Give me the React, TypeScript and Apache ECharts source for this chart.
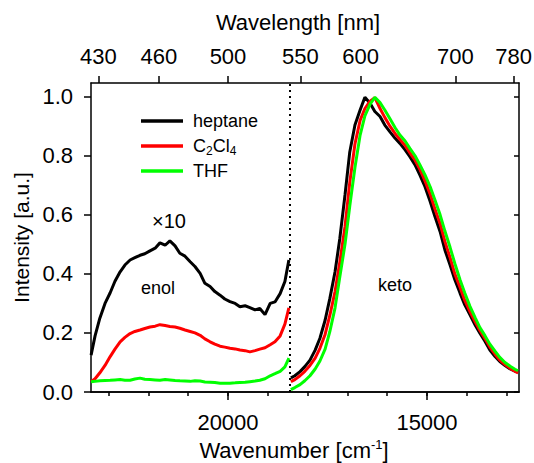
import React, { useEffect, useRef } from 'react';
import * as echarts from 'echarts';

// Wavenumber (cm^-1) sampling of the enol (×10) part and keto part
const enolWavenumber = [23440, 23340, 23220, 23090, 22960, 22840, 22710, 22590, 22460, 22340, 22210, 22090, 21960, 21830, 21710, 21580, 21460, 21330, 21210, 21080, 20950, 20830, 20700, 20580, 20450, 20330, 20200, 20080, 19950, 19820, 19700, 19570, 19450, 19320, 19200, 19070, 18940, 18820, 18690, 18570, 18470];
const ketoWavenumber = [18420, 18320, 18190, 18070, 17940, 17810, 17690, 17560, 17440, 17310, 17190, 17060, 16940, 16810, 16680, 16560, 16430, 16310, 16180, 16060, 15930, 15800, 15680, 15550, 15430, 15300, 15180, 15050, 14920, 14800, 14670, 14550, 14420, 14300, 14170, 14050, 13920, 13790, 13670, 13540, 13420, 13290, 13170, 13040, 12910, 12790, 12710];

const heptaneEnol = [0.125, 0.19, 0.25, 0.3, 0.336, 0.375, 0.407, 0.43, 0.447, 0.455, 0.463, 0.468, 0.478, 0.487, 0.505, 0.497, 0.512, 0.495, 0.47, 0.46, 0.441, 0.425, 0.402, 0.368, 0.357, 0.34, 0.328, 0.315, 0.306, 0.3, 0.289, 0.292, 0.286, 0.278, 0.283, 0.262, 0.3, 0.305, 0.333, 0.374, 0.447];
const c2cl4Enol = [0.035, 0.045, 0.065, 0.09, 0.12, 0.145, 0.17, 0.185, 0.198, 0.205, 0.21, 0.215, 0.22, 0.223, 0.228, 0.225, 0.222, 0.22, 0.216, 0.21, 0.205, 0.2, 0.192, 0.18, 0.17, 0.162, 0.155, 0.152, 0.148, 0.146, 0.142, 0.14, 0.136, 0.14, 0.145, 0.15, 0.16, 0.17, 0.19, 0.23, 0.285];
const thfEnol = [0.035, 0.036, 0.038, 0.039, 0.04, 0.041, 0.042, 0.04, 0.04, 0.044, 0.047, 0.043, 0.042, 0.041, 0.04, 0.042, 0.041, 0.039, 0.038, 0.037, 0.036, 0.038, 0.037, 0.034, 0.033, 0.032, 0.03, 0.03, 0.03, 0.031, 0.032, 0.033, 0.035, 0.037, 0.04, 0.045, 0.055, 0.062, 0.07, 0.085, 0.115];

const heptaneKeto = [0.048, 0.055, 0.069, 0.086, 0.108, 0.142, 0.182, 0.243, 0.317, 0.407, 0.52, 0.667, 0.813, 0.904, 0.955, 0.998, 0.978, 0.95, 0.933, 0.904, 0.881, 0.859, 0.842, 0.82, 0.797, 0.769, 0.735, 0.695, 0.645, 0.594, 0.543, 0.481, 0.43, 0.38, 0.335, 0.295, 0.261, 0.227, 0.199, 0.171, 0.142, 0.12, 0.103, 0.09, 0.078, 0.071, 0.067];
const c2cl4Keto = [0.035, 0.042, 0.055, 0.07, 0.09, 0.115, 0.148, 0.195, 0.26, 0.34, 0.44, 0.56, 0.71, 0.84, 0.92, 0.96, 0.985, 0.997, 0.96, 0.93, 0.9, 0.875, 0.855, 0.835, 0.81, 0.785, 0.755, 0.715, 0.67, 0.62, 0.57, 0.51, 0.455, 0.4, 0.355, 0.31, 0.272, 0.238, 0.208, 0.18, 0.152, 0.128, 0.108, 0.093, 0.08, 0.07, 0.065];
const thfKeto = [0.008, 0.015, 0.025, 0.038, 0.055, 0.078, 0.105, 0.145, 0.205, 0.285, 0.39, 0.5, 0.63, 0.76, 0.87, 0.935, 0.975, 0.998, 0.98, 0.955, 0.925, 0.895, 0.87, 0.85, 0.825, 0.8, 0.77, 0.735, 0.695, 0.65, 0.6, 0.545, 0.49, 0.435, 0.38, 0.335, 0.29, 0.252, 0.218, 0.19, 0.162, 0.138, 0.117, 0.1, 0.087, 0.077, 0.072];

const solventNames = ['heptane', 'C2Cl4', 'THF'];
const solventColors = ['#000000', '#ff0000', '#00ff00'];

const wavelengthTicks = [430, 460, 500, 550, 600, 700, 780];
const wavenumberLabels = [15000, 20000];
const wavenumberMinorTicks = [13000, 14000, 15000, 16000, 17000, 18000, 19000, 20000, 21000, 22000, 23000];
const intensityTicks = [0, 0.2, 0.4, 0.6, 0.8, 1.0];
const separatorWavenumber = 18460;

const X_MIN = 12688;
const X_MAX = 23442;
const Y_MAX = 1.0464;
const FONT = 'Liberation Sans, Arial, sans-serif';

function buildSeriesData(enol: number[], keto: number[]) {
  const d: (number | null)[][] = [];
  enolWavenumber.forEach((w, i) => d.push([w, enol[i]]));
  d.push([18445, null]);
  ketoWavenumber.forEach((w, i) => d.push([w, keto[i]]));
  return d;
}

export default function App() {
  const ref = useRef<HTMLDivElement>(null);
  useEffect(() => {
    if (!ref.current) return;
    const chart = echarts.init(ref.current, null, { renderer: 'svg' });
    const values = [
      [heptaneEnol, heptaneKeto],
      [c2cl4Enol, c2cl4Keto],
      [thfEnol, thfKeto],
    ];
    const axisLine = { show: true, lineStyle: { color: '#000', width: 1.5 } };
    const labelStyle = { fontFamily: FONT, fontSize: 22, color: '#000' };
    const option: any = {
      animation: false,
      backgroundColor: '#fff',
      grid: { left: 91, right: 15, top: 83, bottom: 71, containLabel: false, outerBoundsMode: 'none' },
      xAxis: [
        {
          type: 'value', position: 'bottom', min: X_MIN, max: X_MAX, inverse: true,
          axisLine, splitLine: { show: false },
          axisTick: { show: true, inside: false, length: 4, customValues: wavenumberMinorTicks, lineStyle: { color: '#000', width: 1.5 } },
          axisLabel: { show: false },
        },
        {
          type: 'value', position: 'bottom', min: X_MIN, max: X_MAX, inverse: true,
          axisLine, splitLine: { show: false },
          axisTick: { show: true, inside: false, length: 8, customValues: wavenumberLabels, lineStyle: { color: '#000', width: 1.5 } },
          axisLabel: { ...labelStyle, margin: 19, customValues: wavenumberLabels, formatter: (v: number) => String(v) },
          name: '{a|Wavenumber [cm}{b|-1}{a|]}',
          nameLocation: 'middle',
          nameGap: 42,
          nameTextStyle: {
            padding: [0, 22, 0, 0],
            rich: {
              a: { fontFamily: FONT, fontSize: 22, lineHeight: 26, color: '#000' },
              b: { fontFamily: FONT, fontSize: 13, lineHeight: 13, color: '#000', verticalAlign: 'top' },
            },
          },
        },
        {
          type: 'value', position: 'top', min: X_MIN, max: X_MAX, inverse: true,
          axisLine, splitLine: { show: false },
          axisTick: { show: true, inside: false, length: 7, customValues: wavelengthTicks.map((l) => 1e7 / l), lineStyle: { color: '#000', width: 1.5 } },
          axisLabel: { ...labelStyle, margin: 16, customValues: wavelengthTicks.map((l) => 1e7 / l), formatter: (v: number) => String(Math.round(1e7 / v)) },
          name: 'Wavelength [nm]',
          nameLocation: 'middle',
          nameGap: 50,
          nameTextStyle: { fontFamily: FONT, fontSize: 22, color: '#000', padding: [0, 14, 0, 0] },
        },
      ],
      yAxis: [
        {
          type: 'value', position: 'left', min: 0, max: Y_MAX,
          axisLine, splitLine: { show: false },
          axisTick: { show: true, inside: false, length: 7, customValues: intensityTicks, lineStyle: { color: '#000', width: 1.5 } },
          axisLabel: { ...labelStyle, margin: 18, customValues: intensityTicks, formatter: (v: number) => v.toFixed(1) },
          name: 'Intensity [a.u.]',
          nameLocation: 'middle',
          nameGap: 55,
          nameTextStyle: { fontFamily: FONT, fontSize: 21, color: '#000' },
        },
        {
          type: 'value', position: 'right', min: 0, max: Y_MAX,
          axisLine, splitLine: { show: false },
          axisTick: { show: true, inside: true, length: 5, customValues: intensityTicks, lineStyle: { color: '#000', width: 1.5 } },
          axisLabel: { show: false },
        },
      ],
      series: solventNames.map((name, i) => ({
        name,
        type: 'line',
        xAxisIndex: 0,
        yAxisIndex: 0,
        showSymbol: false,
        symbol: 'none',
        connectNulls: false,
        data: buildSeriesData(values[i][0], values[i][1]),
        lineStyle: { color: solventColors[i], width: 3 },
        itemStyle: { color: solventColors[i] },
        z: 3 + i,
        markLine: i === 0 ? {
          silent: true,
          symbol: ['none', 'none'],
          label: { show: false },
          lineStyle: { color: '#000', type: [2, 4], width: 2 },
          data: [{ xAxis: separatorWavenumber }],
        } : undefined,
      })),
      graphic: [
        ...solventNames.map((name, i) => ({
          type: 'line',
          shape: { x1: 141, y1: 121 + i * 25, x2: 183, y2: 121 + i * 25 },
          style: { stroke: solventColors[i], lineWidth: 3.5 },
          z: 10,
        })),
        {
          type: 'text', x: 193, y: 121, z: 10,
          style: { text: 'heptane', fontFamily: FONT, fontSize: 18, fill: '#000', verticalAlign: 'middle' },
        },
        {
          type: 'text', x: 193, y: 146, z: 10,
          style: {
            text: '{n|C}{s|2}{n|Cl}{s|4}', verticalAlign: 'middle',
            rich: {
              n: { fontFamily: FONT, fontSize: 18, lineHeight: 22, fill: '#000' },
              s: { fontFamily: FONT, fontSize: 12, lineHeight: 12, fill: '#000', verticalAlign: 'bottom' },
            },
          },
        },
        {
          type: 'text', x: 193, y: 171, z: 10,
          style: { text: 'THF', fontFamily: FONT, fontSize: 18, fill: '#000', verticalAlign: 'middle' },
        },
        {
          type: 'text', x: 169, y: 221, z: 10,
          style: { text: '×10', fontFamily: FONT, fontSize: 20, fill: '#000', align: 'center', verticalAlign: 'middle' },
        },
        {
          type: 'text', x: 158, y: 288, z: 10,
          style: { text: 'enol', fontFamily: FONT, fontSize: 18, fill: '#000', align: 'center', verticalAlign: 'middle' },
        },
        {
          type: 'text', x: 395, y: 285, z: 10,
          style: { text: 'keto', fontFamily: FONT, fontSize: 18, fill: '#000', align: 'center', verticalAlign: 'middle' },
        },
      ],
    };
    chart.setOption(option);
    return () => chart.dispose();
  }, []);
  return <div ref={ref} style={{ position: 'fixed', left: 0, top: 0, width: 534, height: 463, background: '#fff' }} />;
}
